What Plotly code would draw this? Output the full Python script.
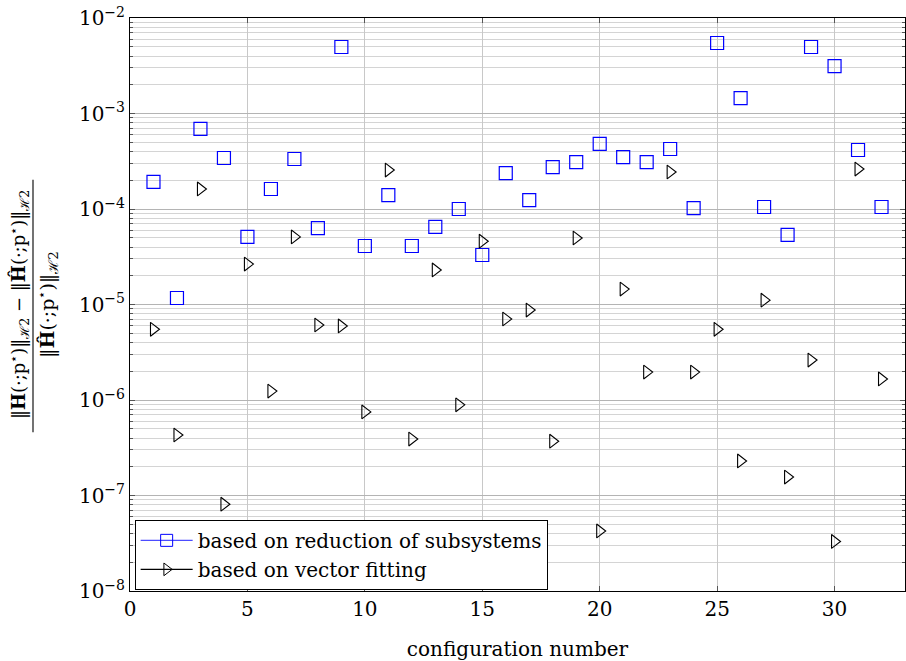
import plotly.graph_objects as go

config = list(range(1, 33))
reduction = [1.92e-4, 1.17e-5, 6.9e-4, 3.42e-4, 5.1e-5, 1.62e-4, 3.34e-4, 6.3e-5,
             4.97e-3, 4.1e-5, 1.40e-4, 4.1e-5, 6.5e-5, 1.0e-4, 3.3e-5, 2.38e-4,
             1.24e-4, 2.75e-4, 3.1e-4, 4.8e-4, 3.5e-4, 3.1e-4, 4.25e-4, 1.02e-4,
             5.47e-3, 1.45e-3, 1.05e-4, 5.35e-5, 4.97e-3, 3.14e-3, 4.15e-4, 1.05e-4]
vecfit = [5.5e-6, 4.3e-7, 1.62e-4, 8.1e-8, 2.65e-5, 1.24e-6, 5.1e-5, 6.1e-6,
          5.96e-6, 7.5e-7, 2.56e-4, 3.9e-7, 2.3e-5, 8.9e-7, 4.6e-5, 7.05e-6,
          8.75e-6, 3.7e-7, 4.97e-5, 4.25e-8, 1.45e-5, 1.96e-6, 2.44e-4, 1.96e-6,
          5.5e-6, 2.3e-7, 1.11e-5, 1.56e-7, 2.62e-6, 3.3e-8, 2.62e-4, 1.66e-6]
names = ["based on reduction of subsystems", "based on vector fitting"]
ytickvals = [1e-8, 1e-7, 1e-6, 1e-5, 1e-4, 1e-3, 1e-2]
yticktext = ["10<sup>−8</sup>", "10<sup>−7</sup>", "10<sup>−6</sup>", "10<sup>−5</sup>",
             "10<sup>−4</sup>", "10<sup>−3</sup>", "10<sup>−2</sup>"]

FONT = "DejaVu Serif"
FS = 20
fig = go.Figure()
fig.add_trace(go.Scatter(x=config, y=reduction, mode="markers", showlegend=False,
                         marker=dict(symbol="square-open", size=13, color="#0000ff",
                                     line=dict(width=1.2))))
fig.add_trace(go.Scatter(x=config, y=vecfit, mode="markers", showlegend=False,
                         marker=dict(symbol="triangle-right-open", size=12, color="black",
                                     line=dict(width=1.1))))
# legend entries (line + marker)
fig.add_trace(go.Scatter(x=[None], y=[None], mode="lines+markers", name=names[0],
                         line=dict(color="rgba(0,0,255,0.7)", width=1.2),
                         marker=dict(symbol="square-open", size=12, color="#0000ff")))
fig.add_trace(go.Scatter(x=[None], y=[None], mode="lines+markers", name=names[1],
                         line=dict(color="black", width=1.2),
                         marker=dict(symbol="triangle-right-open", size=11, color="black")))

fig.update_xaxes(range=[0, 33], tickvals=[0, 5, 10, 15, 20, 25, 30], showgrid=True,
                 gridcolor="#c8c8c8", gridwidth=1, zeroline=False,
                 showline=True, linecolor="black", linewidth=1, mirror="ticks",
                 ticks="inside", ticklen=5, tickcolor="#555",
                 title=dict(text="configuration number", standoff=22,
                            font=dict(family=FONT, size=FS)),
                 tickfont=dict(family=FONT, size=FS, color="black"))
fig.update_yaxes(type="log", range=[-8, -2], tickvals=ytickvals, ticktext=yticktext,
                 showgrid=True, gridcolor="#b4b4b4", gridwidth=1, zeroline=False,
                 showline=True, linecolor="black", linewidth=1, mirror="ticks",
                 ticks="inside", ticklen=5, tickcolor="#555",
                 minor=dict(dtick="D1", showgrid=True, gridcolor="#d4d4d4", gridwidth=1,
                            ticks="inside", ticklen=3, tickcolor="#555"),
                 tickfont=dict(family=FONT, size=FS, color="black"))

H = "<b>H</b>(·;p<sup>⋆</sup>)"
Hh = "<b>Ĥ</b>(·;p<sup>⋆</sup>)"
num = "‖" + H + "‖<sub>ℋ2</sub> − ‖" + Hh + "‖<sub>ℋ2</sub>"
den = "‖" + Hh + "‖<sub>ℋ2</sub>"
fig.add_annotation(text=num, x=0, xref="paper", xshift=-111, y=0.499, yref="paper",
                   textangle=-90, showarrow=False, xanchor="center", yanchor="middle",
                   font=dict(family=FONT, size=18, color="black"))
fig.add_annotation(text=den, x=0, xref="paper", xshift=-83, y=0.499, yref="paper",
                   textangle=-90, showarrow=False, xanchor="center", yanchor="middle",
                   font=dict(family=FONT, size=19, color="black"))
# fraction bar
fig.add_annotation(text="", x=0, xref="paper", xshift=-97, y=0.277, yref="paper",
                   showarrow=True, arrowhead=0, arrowwidth=1.1, arrowcolor="black",
                   ax=0, ay=-254, standoff=0, startstandoff=0)

fig.update_layout(width=906, height=661, margin=dict(l=130, r=1, t=18, b=70),
                  plot_bgcolor="white", paper_bgcolor="white",
                  font=dict(family=FONT, color="black"),
                  legend=dict(x=0.006, y=0.002, xanchor="left", yanchor="bottom",
                              bgcolor="white", bordercolor="black", borderwidth=1,
                              font=dict(family=FONT, size=FS), itemwidth=52,
                              tracegroupgap=0))
fig.write_html("out.html")
